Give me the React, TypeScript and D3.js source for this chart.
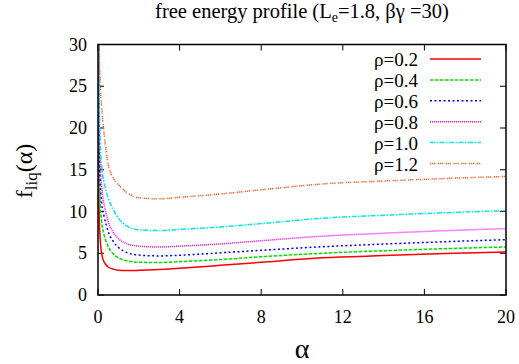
import React from "react";
import * as d3 from "d3";

const alpha = [0.01, 0.03, 0.06, 0.1, 0.18, 0.3, 0.4, 0.5, 0.75, 1.0, 1.4, 2.0, 3, 4, 6, 8, 11, 14, 17, 20];
const rho02 = [38, 16, 9.5, 7.0, 5.0, 3.95, 3.6, 3.35, 3.1, 2.97, 2.92, 2.95, 3.05, 3.2, 3.55, 3.92, 4.45, 4.72, 4.96, 5.16];
const rho04 = [45, 22, 15, 11.5, 8.8, 7.2, 6.4, 5.8, 4.9, 4.45, 4.1, 3.92, 3.9, 4.0, 4.25, 4.58, 5.0, 5.3, 5.55, 5.75];
const rho06 = [50, 26, 18, 14, 11, 9.4, 8.4, 7.6, 6.4, 5.7, 5.1, 4.78, 4.68, 4.76, 5.05, 5.35, 5.78, 6.1, 6.38, 6.63];
const rho08 = [55, 30, 21, 16.5, 13.2, 10.8, 9.7, 8.8, 7.5, 6.75, 6.15, 5.85, 5.75, 5.85, 6.12, 6.5, 7.05, 7.4, 7.7, 7.95];
const rho10 = [60, 34, 24, 19, 15.4, 13.5, 12.4, 11.6, 10.2, 9.2, 8.3, 7.8, 7.72, 7.85, 8.15, 8.55, 9.2, 9.55, 9.85, 10.1];
const rho12 = [70, 40, 30, 26, 22.5, 19.3, 17.2, 15.7, 14.0, 13.2, 12.3, 11.65, 11.52, 11.7, 12.1, 12.6, 13.3, 13.65, 13.95, 14.2];

const seriesLabels = ["ρ=0.2", "ρ=0.4", "ρ=0.6", "ρ=0.8", "ρ=1.0", "ρ=1.2"];
const seriesValues = [rho02, rho04, rho06, rho08, rho10, rho12];
const seriesColors = ["#ff0000", "#00e000", "#0000ff", "#ff00ff", "#00e8e8", "#f4632a"];
const seriesDash = ["none", "3.5,1.5", "2,2.5", "1,1", "5,1.5,1.5,1.5", "1.3,0.7,1.3,0.7,1.3,2.5"];

const xTicks = [0, 4, 8, 12, 16, 20];
const yTicks = [0, 5, 10, 15, 20, 25, 30];

const W = 519;
const H = 364;
const L = 98, R = 506, T = 44.5, B = 295;
const FONT = "Liberation Serif, DejaVu Serif, serif";

export default function App() {
  const x = d3.scaleLinear().domain([0, 20]).range([L, R]);
  const y = d3.scaleLinear().domain([0, 30]).range([B, T]);
  const line = d3
    .line<number>()
    .x((_, i) => x(alpha[i]))
    .y((d) => y(d))
    .curve(d3.curveMonotoneX);
  const tk = 6;
  return (
    <svg width={W} height={H} style={{ position: "absolute", left: 0, top: 0, fontFamily: FONT }}>
      <rect x={0} y={0} width={W} height={H} fill="#fff" />
      <defs>
        <clipPath id="plot">
          <rect x={L} y={T} width={R - L} height={B - T} />
        </clipPath>
      </defs>
      <text x={302} y={18} textAnchor="middle" fontSize={20.5} style={{ fontFamily: FONT }}>
        free energy profile (L
        <tspan fontSize={14} dy={4}>e</tspan>
        <tspan dy={-4}>=1.8, βγ =30)</tspan>
      </text>
      {yTicks.map((t) => (
        <g key={"y" + t}>
          <line x1={L} x2={L + tk} y1={y(t)} y2={y(t)} stroke="#000" strokeWidth={1} />
          <line x1={R} x2={R - tk} y1={y(t)} y2={y(t)} stroke="#000" strokeWidth={1} />
          <text x={87} y={y(t) + 6} textAnchor="end" fontSize={18} style={{ fontFamily: FONT }}>{t}</text>
        </g>
      ))}
      {xTicks.map((t) => (
        <g key={"x" + t}>
          <line x1={x(t)} x2={x(t)} y1={B} y2={B - tk} stroke="#000" strokeWidth={1} />
          <line x1={x(t)} x2={x(t)} y1={T} y2={T + tk} stroke="#000" strokeWidth={1} />
          <text x={x(t)} y={323} textAnchor="middle" fontSize={18} style={{ fontFamily: FONT }}>{t}</text>
        </g>
      ))}
      <g clipPath="url(#plot)">
        {seriesValues.map((vals, i) => (
          <path
            key={i}
            d={line(vals) || ""}
            fill="none"
            stroke={seriesColors[i]}
            strokeWidth={1.5}
            strokeDasharray={seriesDash[i]}
          />
        ))}
      </g>
      <rect x={L} y={T} width={R - L} height={B - T} fill="none" stroke="#000" strokeWidth={1.5} />
      {seriesLabels.map((lab, i) => {
        const ly = 59 + i * 20.9;
        return (
          <g key={lab}>
            <text x={418} y={ly + 7} textAnchor="end" fontSize={19} style={{ fontFamily: FONT }}>{lab}</text>
            <line x1={430} x2={481} y1={ly} y2={ly} stroke={seriesColors[i]} strokeWidth={1.5} strokeDasharray={seriesDash[i]} />
          </g>
        );
      })}
      <text x={302} y={358} textAnchor="middle" fontSize={28} style={{ fontFamily: FONT }}>α</text>
      <text transform="translate(32,171) rotate(-90)" textAnchor="middle" fontSize={24} style={{ fontFamily: FONT }}>
        f<tspan fontSize={17} dy={5}>liq</tspan>
        <tspan dy={-5}>(α)</tspan>
      </text>
    </svg>
  );
}
